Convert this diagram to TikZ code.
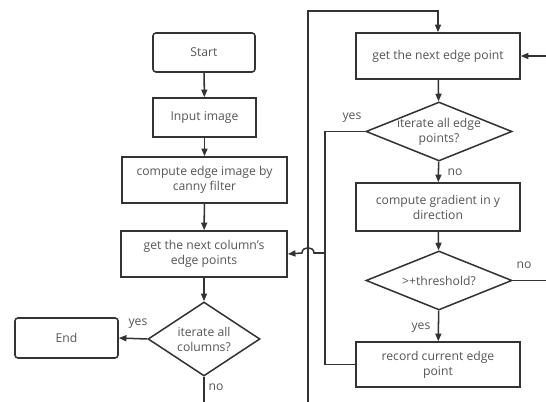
\documentclass[tikz,border=0pt]{standalone}
\usepackage{fontspec}
\setmainfont{Open Sans}
\usepackage{tikz}
\usetikzlibrary{calc,positioning,shapes.geometric,arrows.meta}
\usepackage{xcolor}
\definecolor{linegray}{HTML}{333333}
\definecolor{textgray}{HTML}{555555}
\tikzset{
  startstop/.style={
    draw=linegray,
    rectangle,
    rounded corners=2.5pt,
    line width=1.3pt,
    inner sep=0pt,
    text=textgray,
    font=\fontsize{10.4}{12.8}\selectfont,
  },
  process/.style={
    draw=linegray,
    rectangle,
    line width=1.3pt,
    inner sep=0pt,
    align=center,
    text=textgray,
    font=\fontsize{10.4}{12.8}\selectfont,
  },
  decision/.style={
    draw=linegray,
    diamond,
    inner sep=0pt,
    line width=1.3pt,
  },
  txt/.style={
    align=center,
    inner sep=0pt,
    text=textgray,
    font=\fontsize{10.4}{12.8}\selectfont,
  },
  lbl/.style={text=textgray, inner sep=0pt, font=\fontsize{10.4}{12}\selectfont},
  flow/.style={draw=linegray, line width=1.3pt, -{Triangle[length=2.3mm,width=1.8mm]}},
  line/.style={draw=linegray, line width=1.3pt},
}

\begin{document}
\begin{tikzpicture}[x=0.03cm, y=-0.03cm]
  \useasboundingbox (0,0) rectangle (546,402);
  % left column
  \node[startstop, minimum width=3.06cm, minimum height=1.17cm] (start) at (204,52.5) {Start};
  \node[process, minimum width=3.09cm, minimum height=1.17cm] (input) at (204.5,117.5) {Input image};
  \node[process, minimum width=4.95cm, minimum height=1.38cm] (canny) at (204.5,180) {compute edge image by\\canny filter};
  \node[process, minimum width=4.98cm, minimum height=1.38cm] (column) at (204,254) {get the next column's\\edge points};
  \node[decision, minimum width=3.36cm, minimum height=2.22cm] (allcols) at (204,339) {};
  \node[txt] (allcolstxt) at (allcols) {iterate all\\columns?};
  \node[startstop, minimum width=3.09cm, minimum height=1.2cm] (stop) at (66.5,338) {End};
  % right column
  \node[process, minimum width=4.92cm, minimum height=1.38cm] (nextpt) at (438,56) {get the next edge point};
  \node[decision, minimum width=4.38cm, minimum height=1.77cm] (allpts) at (439,131.5) {};
  \node[txt] (allptstxt) at (allpts) {iterate all edge\\points?};
  \node[process, minimum width=4.92cm, minimum height=1.44cm] (grad) at (438,207) {compute gradient in y\\direction};
  \node[decision, minimum width=4.38cm, minimum height=1.77cm] (thr) at (439,280.5) {};
  \node[txt] (thrtxt) at (thr) {>+threshold?};
  \node[process, minimum width=4.92cm, minimum height=1.35cm] (record) at (438,364.5) {record current edge\\point};
  % free ends
  \coordinate (loopbot) at (308,402);
  \coordinate (looptop) at (308,11);
  \coordinate (nobot) at (204,402);
  \coordinate (rightin) at (546,56);
  \coordinate (rightout) at (546,280.5);
  \coordinate (join) at (325,253);

  \draw[flow] (start) -- (input);
  \draw[flow] (input) -- (canny);
  \draw[flow] (canny) -- (column);
  \draw[flow] (column) -- (allcols);
  \draw[flow] (allcols.west) -- (stop.east);
  \node[lbl] (yes1) at (138,324) {yes};
  \draw[line] (allcols.south) -- (nobot);
  \node[lbl] (no1) at (216,387) {no};

  \draw[flow] (loopbot) -- (looptop) -| (nextpt.north);
  \draw[flow] (rightin) -- (nextpt.east);
  \draw[flow] (nextpt) -- (allpts);
  \draw[flow] (allpts) -- (grad);
  \node[lbl] (no2) at (455,172) {no};
  \draw[flow] (grad) -- (thr);
  \draw[line] (thr.east) -- (rightout);
  \node[lbl] (no3) at (524,265) {no};
  \draw[flow] (thr) -- (record);
  \node[lbl] (yes3) at (421,328) {yes};
  \draw[line] (allpts.west) -| (join);
  \node[lbl] (yes2) at (352,118) {yes};
  \draw[line] (record.west) -| (join);
  \draw[flow] (join) -- (314,253) .. controls (314,246) and (302,246) .. (302,253) -- (column.east);
\end{tikzpicture}
\end{document}
